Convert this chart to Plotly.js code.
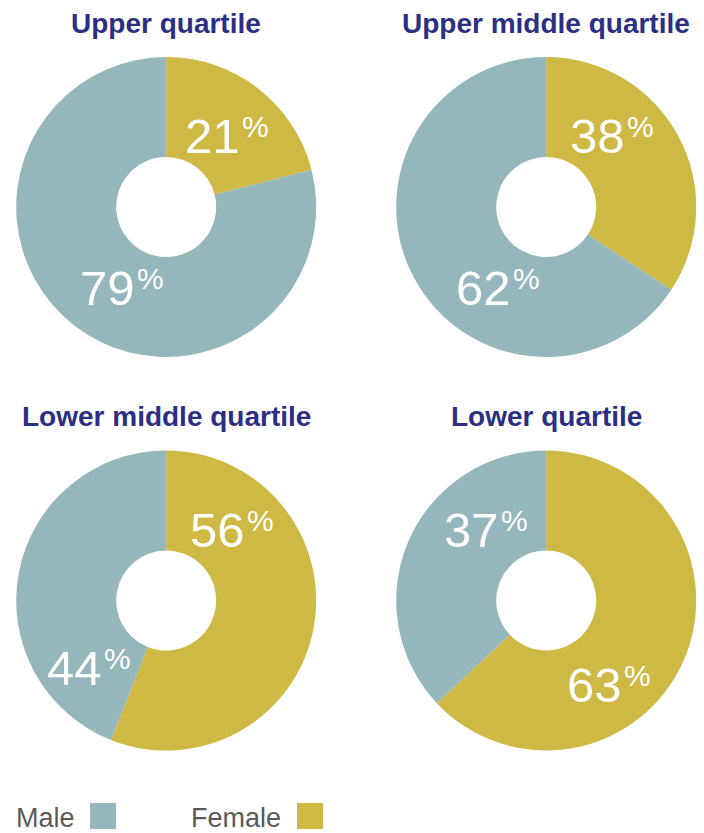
<!DOCTYPE html>
<html>
<head>
<meta charset="utf-8">
<script src="https://cdn.plot.ly/plotly-3.0.1.min.js"></script>
<style>
  html, body { margin: 0; padding: 0; background: #ffffff; }
  #chart { width: 704px; height: 833px; }
</style>
</head>
<body>
<div id="chart"></div>
<script>
// ---- data ----
var quartiles = ['Upper quartile', 'Upper middle quartile', 'Lower middle quartile', 'Lower quartile'];
// shares as printed on the labels
var femaleShare = [21, 38, 56, 63];
var maleShare = [79, 62, 44, 37];
// slice sizes as drawn in the reference (the upper-middle slice is drawn at ~34%)
var femaleSlice = [21, 34.3, 56, 63];
var maleSlice = [79, 65.7, 44, 37];
var seriesNames = ['Female', 'Male'];
var legendOrder = ['Male', 'Female'];

// ---- layout / style ----
var W = 704, H = 833;
var colors = { Male: '#95b6bb', Female: '#cdb944' };
var titleColor = '#2b2f84';
var FONT = 'Liberation Sans, Arial, Helvetica, sans-serif';
var R = 150;
var centers = [[166.2, 207], [546.2, 207], [166.2, 600.5], [546.2, 600.5]];
var titleBaselineOffset = -174;   // title baseline relative to pie centre
// label anchor (end of number / start of %) and baseline, relative to pie centre: [female, male]
var labelPos = [
  [[75, -54], [-30, 98]],
  [[80, -54], [-34, 98]],
  [[80, -54], [-63, 84.5]],
  [[77, 101.5], [-46, -53.5]]
];
var numSize = 49, pctSize = 30;

function px(x) { return x / W; }
function py(y) { return 1 - y / H; }

var traces = [];
var annotations = [];
var shapes = [];

quartiles.forEach(function (q, i) {
  var c = centers[i];
  var vals = [femaleShare[i], maleShare[i]];
  traces.push({
    type: 'pie',
    values: [femaleSlice[i], maleSlice[i]],
    labels: seriesNames,
    sort: false,
    direction: 'clockwise',
    rotation: 0,
    hole: 1 / 3,
    textinfo: 'none',
    hoverinfo: 'label',
    showlegend: false,
    marker: { colors: seriesNames.map(function (n) { return colors[n]; }), line: { width: 0 } },
    domain: { x: [px(c[0] - R), px(c[0] + R)], y: [py(c[1] + R), py(c[1] - R)] },
    name: q
  });
  // title
  var tb = c[1] + titleBaselineOffset;
  annotations.push({
    xref: 'paper', yref: 'paper', x: px(c[0]), y: py(tb - 0.3465 * 28),
    xanchor: 'center', yanchor: 'middle', showarrow: false, borderpad: 0,
    text: '<b>' + q + '</b>',
    font: { family: FONT, size: 28, color: titleColor }
  });
  // value labels
  vals.forEach(function (v, k) {
    var ax = c[0] + labelPos[i][k][0];
    var base = c[1] + labelPos[i][k][1];
    annotations.push({
      xref: 'paper', yref: 'paper', x: px(ax), y: py(base - 0.3465 * numSize),
      xanchor: 'right', yanchor: 'middle', showarrow: false, borderpad: 0,
      text: String(v),
      font: { family: FONT, size: numSize, color: '#ffffff' }
    });
    annotations.push({
      xref: 'paper', yref: 'paper', x: px(ax), y: py(base - 16 - 0.3465 * pctSize),
      xanchor: 'left', yanchor: 'middle', showarrow: false, borderpad: 0,
      text: '%',
      font: { family: FONT, size: pctSize, color: '#ffffff' }
    });
  });
});

// custom legend
var legendX = [[14.5, 90], [189.5, 297]];
var legendBaseline = 827;
legendOrder.forEach(function (n, k) {
  annotations.push({
    xref: 'paper', yref: 'paper', x: px(legendX[k][0]), y: py(legendBaseline - 0.3465 * 27),
    xanchor: 'left', yanchor: 'middle', showarrow: false, borderpad: 0,
    text: n,
    font: { family: FONT, size: 27, color: '#5a5a5a' }
  });
  shapes.push({
    type: 'rect', xref: 'paper', yref: 'paper',
    x0: px(legendX[k][1]), x1: px(legendX[k][1] + 26),
    y0: py(829), y1: py(803),
    fillcolor: colors[n], line: { width: 0 }
  });
});

var layout = {
  width: W, height: H, autosize: false,
  margin: { l: 0, r: 0, t: 0, b: 0, pad: 0 },
  paper_bgcolor: '#ffffff', plot_bgcolor: '#ffffff',
  showlegend: false,
  annotations: annotations,
  shapes: shapes,
  font: { family: FONT }
};

Plotly.newPlot('chart', traces, layout, { displayModeBar: false, staticPlot: true });
</script>
</body>
</html>
